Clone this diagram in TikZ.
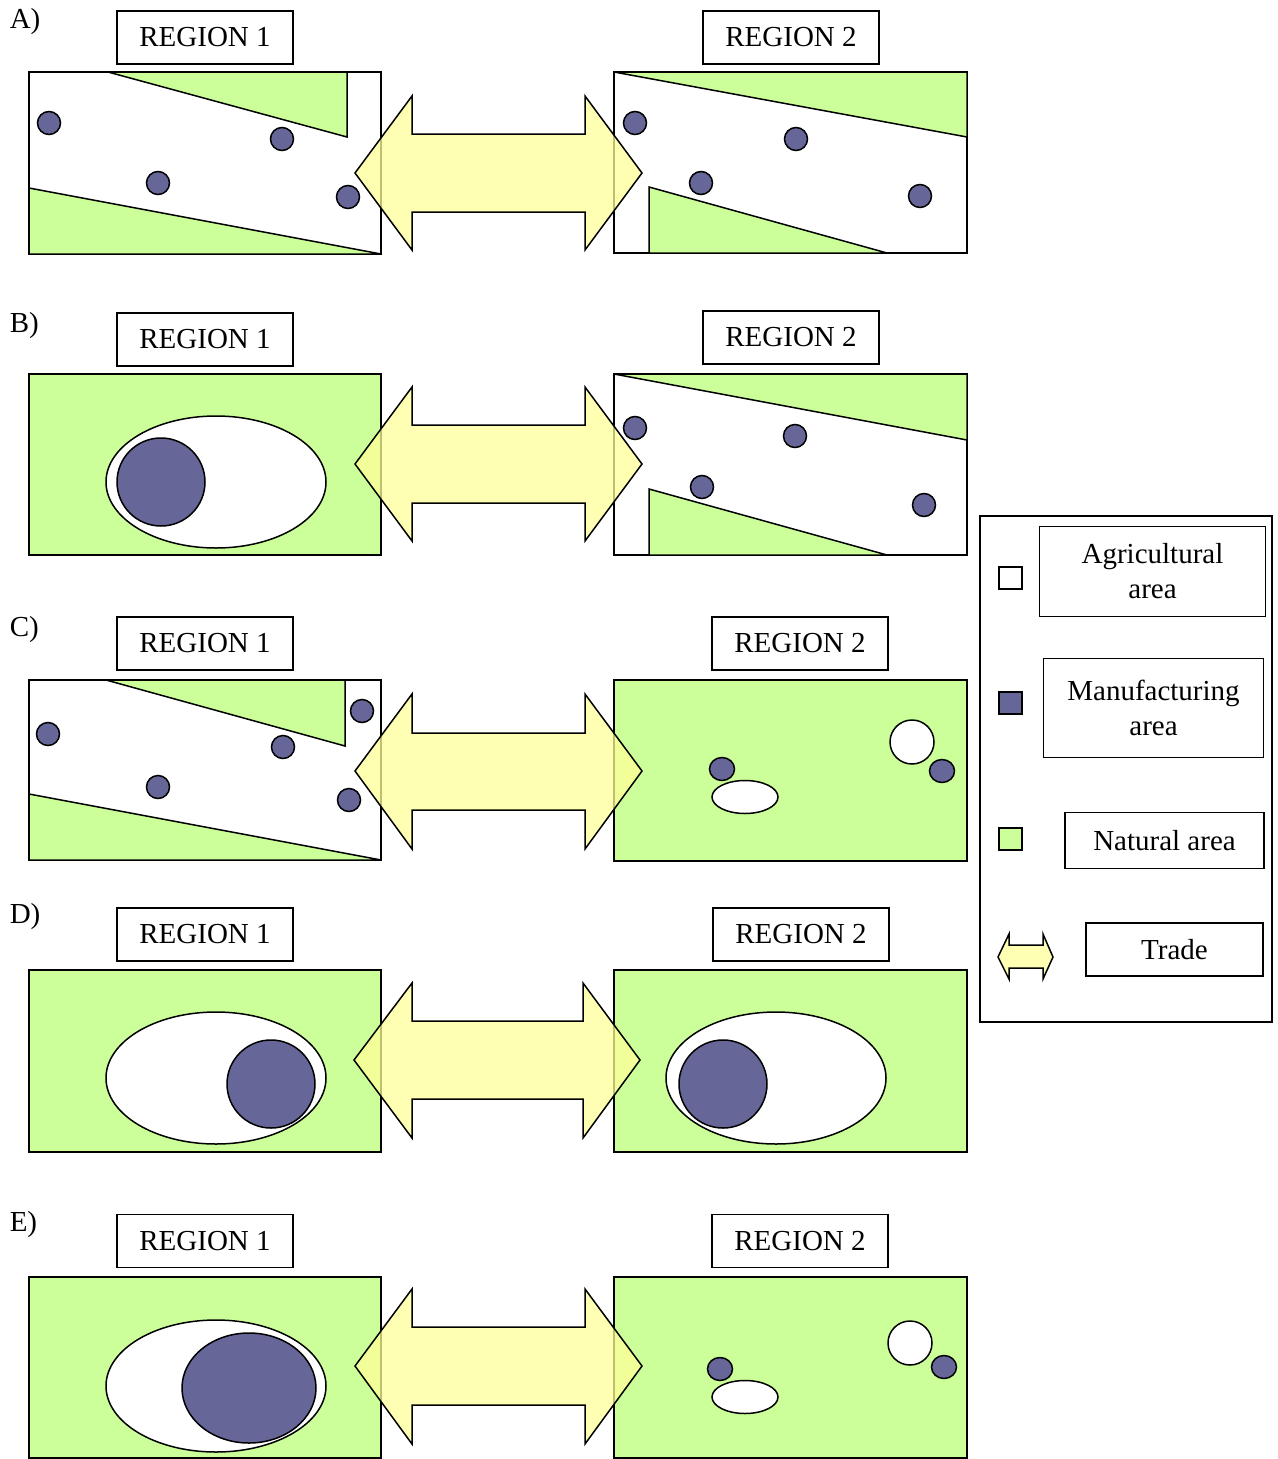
\documentclass[tikz,border=0pt]{standalone}
\usepackage{fontspec}
\setmainfont{Liberation Serif}
\definecolor{natural}{HTML}{CCFF99}
\definecolor{manuf}{HTML}{666699}
\definecolor{tradeyellow}{HTML}{FFFF99}

\begin{document}
\begin{tikzpicture}[x=1pt,y=-1pt,line width=1.5pt,line join=miter,font=\fontsize{29}{35}\selectfont]
\tikzstyle{every node}+=[inner sep=0pt]
\tikzstyle{regionlabel}=[draw,minimum width=176pt,minimum height=53pt]
\tikzstyle{farm}=[draw,fill=white]
\tikzstyle{nat}=[draw,fill=natural]
\tikzstyle{plant}=[draw,fill=manuf]
\tikzstyle{tradearrow}=[draw,fill=tradeyellow,fill opacity=0.75]
\useasboundingbox (0,0) rectangle (1277,1459);
% A
\node [anchor=west] (labA) at (9,22) {A)};
\node [regionlabel] (a1) at (205,37.5) {REGION 1};
\node [regionlabel] (a2) at (791,37.5) {REGION 2};
\draw [farm] (29,72) rectangle (381,254);
\draw [nat] (108,72) -- (347,72) -- (347,137) -- cycle;
\draw [nat] (29,188) -- (381,254) -- (29,254) -- cycle;
\draw [plant] (49,123) circle (11.5);
\draw [plant] (282,139) circle (11.5);
\draw [plant] (158,183) circle (11.5);
\draw [plant] (348,197) circle (11.5);
\draw [farm] (614,72) rectangle (967,253);
\draw [nat] (614,72) -- (967,72) -- (967,137) -- cycle;
\draw [nat] (649,187) -- (887,253) -- (649,253) -- cycle;
\draw [plant] (635,123) circle (11.5);
\draw [plant] (796,139) circle (11.5);
\draw [plant] (701,183) circle (11.5);
\draw [plant] (920,196) circle (11.5);
\draw [tradearrow] (355,173) -- (412,96) -- (412,134) -- (585,134) -- (585,96) -- (642,173) -- (585,250) -- (585,212) -- (412,212) -- (412,250) -- cycle;
% B
\node [anchor=west] (labB) at (9,326) {B)};
\node [regionlabel] (b1) at (205,339.5) {REGION 1};
\node [regionlabel] (b2) at (791,337.5) {REGION 2};
\draw [nat] (29,374) rectangle (381,555);
\draw [farm] (216,482) ellipse (110 and 66);
\draw [plant] (161,482) circle (44);
\draw [farm] (614,374) rectangle (967,555);
\draw [nat] (614,374) -- (967,374) -- (967,440) -- cycle;
\draw [nat] (649,489) -- (887,555) -- (649,555) -- cycle;
\draw [plant] (635,428) circle (11.5);
\draw [plant] (795,436) circle (11.5);
\draw [plant] (702,487) circle (11.5);
\draw [plant] (924,505) circle (11.5);
\draw [tradearrow] (355,464) -- (412,387) -- (412,425) -- (585,425) -- (585,387) -- (642,464) -- (585,541) -- (585,503) -- (412,503) -- (412,541) -- cycle;
% C
\node [anchor=west] (labC) at (9,630) {C)};
\node [regionlabel] (c1) at (205,643.5) {REGION 1};
\node [regionlabel] (c2) at (800,643.5) {REGION 2};
\draw [farm] (29,680) rectangle (381,860);
\draw [nat] (106,680) -- (345,680) -- (345,746) -- cycle;
\draw [nat] (29,794) -- (381,860) -- (29,860) -- cycle;
\draw [plant] (48,734) circle (11.5);
\draw [plant] (362,711) circle (11.5);
\draw [plant] (283,747) circle (11.5);
\draw [plant] (158,787) circle (11.5);
\draw [plant] (349,800) circle (11.5);
\draw [nat] (614,680) rectangle (967,861);
\draw [plant] (722,769) ellipse (12.5 and 11.5);
\draw [farm] (745,797) ellipse (33 and 16.5);
\draw [farm] (912,742) circle (22);
\draw [plant] (942,771) ellipse (12.5 and 11.5);
\draw [tradearrow] (355,771) -- (412,694) -- (412,733) -- (585,733) -- (585,694) -- (642,771) -- (585,849) -- (585,810) -- (412,810) -- (412,849) -- cycle;
% D
\node [anchor=west] (labD) at (9,917) {D)};
\node [regionlabel] (d1) at (205,934.5) {REGION 1};
\node [regionlabel] (d2) at (801,934.5) {REGION 2};
\draw [nat] (29,970) rectangle (381,1152);
\draw [farm] (216,1078) ellipse (110 and 66);
\draw [plant] (271,1084) circle (44);
\draw [nat] (614,970) rectangle (967,1152);
\draw [farm] (776,1078) ellipse (110 and 66);
\draw [plant] (723,1084) circle (44);
\draw [tradearrow] (354,1060) -- (412,983) -- (412,1021) -- (583,1021) -- (583,983) -- (640,1060) -- (583,1138) -- (583,1099) -- (412,1099) -- (412,1138) -- cycle;
% E
\node [anchor=west] (labE) at (9,1225) {E)};
\node [regionlabel] (e1) at (205,1241) {REGION 1};
\node [regionlabel] (e2) at (800,1241) {REGION 2};
\draw [nat] (29,1277) rectangle (381,1458);
\draw [farm] (216,1386) ellipse (110 and 66);
\draw [plant] (249,1388) ellipse (67 and 55);
\draw [nat] (614,1277) rectangle (967,1458);
\draw [plant] (720,1369) ellipse (12.5 and 11.5);
\draw [farm] (745,1397) ellipse (33 and 16.5);
\draw [farm] (910,1343) circle (22);
\draw [plant] (944,1367) ellipse (12.5 and 11.5);
\draw [tradearrow] (355,1366) -- (412,1289) -- (412,1327) -- (585,1327) -- (585,1289) -- (642,1366) -- (585,1444) -- (585,1405) -- (412,1405) -- (412,1444) -- cycle;
% legend
\draw (980,516) rectangle (1272,1022);
\draw [farm] (999,567) rectangle (1022,589);
\node [draw,minimum width=226pt,minimum height=90pt,align=center] (agri) at (1152.5,571.5) {Agricultural\\area};
\draw [plant] (999,692) rectangle (1022,714);
\node [draw,minimum width=220pt,minimum height=99pt,align=center] (manu) at (1153.5,708) {Manufacturing\\area};
\draw [nat] (999,828) rectangle (1022,850);
\node [draw,minimum width=199pt,minimum height=56pt] (natu) at (1164.5,840.5) {Natural area};
\draw [tradearrow] (998,957) -- (1009,934) -- (1009,945) -- (1043,945) -- (1043,934) -- (1053,957) -- (1043,979) -- (1043,968) -- (1009,968) -- (1009,979) -- cycle;
\node [draw,minimum width=177pt,minimum height=53pt] (trad) at (1174.5,949.5) {Trade};
\end{tikzpicture}
\end{document}
